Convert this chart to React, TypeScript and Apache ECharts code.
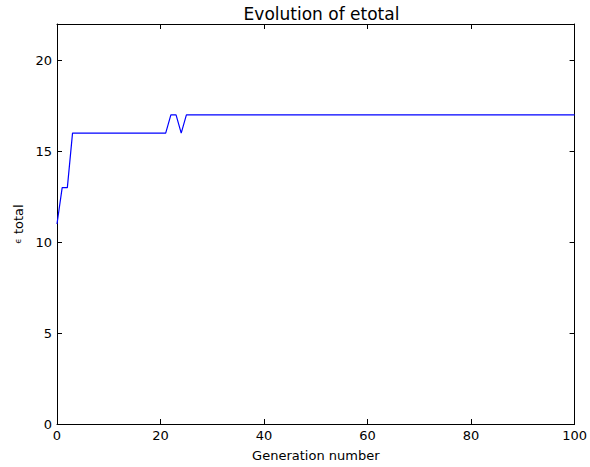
import React, { useEffect, useRef } from "react";
import * as echarts from "echarts";

const generations: number[] = Array.from({ length: 101 }, (_, i) => i);
const etotalHead: number[] = [11, 13, 13, 16, 16, 16, 16, 16, 16, 16, 16, 16, 16, 16, 16, 16, 16, 16, 16, 16, 16, 16, 17, 17, 16];
const etotalTailValue = 17; // generations 25..100 stay at 17
const etotal: number[] = generations.map((g) => (g < etotalHead.length ? etotalHead[g] : etotalTailValue));

const xTicks = [0, 20, 40, 60, 80, 100];
const yTicks = [0, 5, 10, 15, 20];

export default function App() {
  const ref = useRef<HTMLDivElement>(null);
  useEffect(() => {
    if (!ref.current) return;
    const chart = echarts.init(ref.current, null, { renderer: "svg" });
    const font = "DejaVu Sans";
    const axisLine = { show: true, onZero: false, lineStyle: { color: "#000", width: 1 } };
    const tick = { show: true, inside: true, length: 5, lineStyle: { color: "#000" } };
    chart.setOption({
      animation: false,
      backgroundColor: "#fff",
      textStyle: { fontFamily: font },
      title: {
        text: "Evolution of etotal",
        left: 316.5,
        top: 0,
        textAlign: "center",
        textStyle: { fontFamily: font, fontSize: 17, fontWeight: "normal", color: "#000" },
      },
      grid: { left: 57, right: 14, top: 24, bottom: 42, containLabel: false },
      xAxis: [
        {
          type: "value",
          min: xTicks[0],
          max: xTicks[xTicks.length - 1],
          interval: 20,
          position: "bottom",
          name: "Generation number",
          nameLocation: "middle",
          nameGap: 25,
          nameTextStyle: { fontFamily: font, fontSize: 13, color: "#000" },
          axisLine,
          axisTick: tick,
          axisLabel: { fontFamily: font, fontSize: 13, color: "#000", margin: 5 },
          splitLine: { show: false },
        },
        {
          type: "value",
          min: xTicks[0],
          max: xTicks[xTicks.length - 1],
          interval: 20,
          position: "top",
          axisLine,
          axisTick: tick,
          axisLabel: { show: false },
          splitLine: { show: false },
        },
      ],
      yAxis: [
        {
          type: "value",
          min: yTicks[0],
          max: 22,
          interval: 5,
          position: "left",
          name: "{e|ϵ} total",
          nameLocation: "middle",
          nameGap: 27,
          nameRotate: 90,
          nameTextStyle: {
            fontFamily: font,
            fontSize: 13,
            color: "#000",
            rich: { e: { fontFamily: font, fontSize: 9, color: "#000" } },
          },
          axisLine,
          axisTick: tick,
          axisLabel: { fontFamily: font, fontSize: 13, color: "#000", margin: 5, showMaxLabel: false },
          splitLine: { show: false },
        },
        {
          type: "value",
          min: yTicks[0],
          max: 22,
          interval: 5,
          position: "right",
          axisLine,
          axisTick: tick,
          axisLabel: { show: false },
          splitLine: { show: false },
        },
      ],
      series: [
        {
          type: "line",
          xAxisIndex: 0,
          yAxisIndex: 0,
          data: generations.map((g, i) => [g, etotal[i]]),
          showSymbol: false,
          lineStyle: { color: "#0000ff", width: 1.2 },
          itemStyle: { color: "#0000ff" },
        },
      ],
    });
    return () => chart.dispose();
  }, []);
  return <div ref={ref} style={{ position: "absolute", left: 0, top: 0, width: 590, height: 467 }} />;
}
